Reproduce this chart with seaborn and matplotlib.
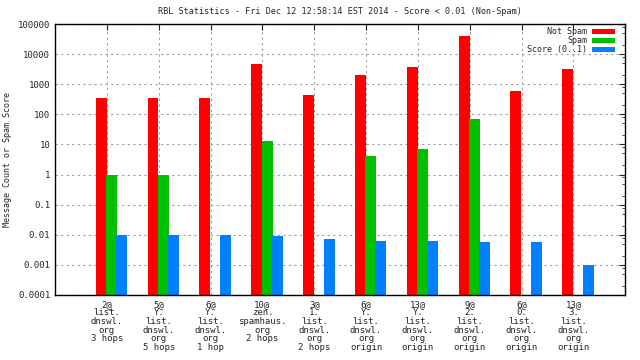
import matplotlib
matplotlib.use("Agg")
import matplotlib.pyplot as plt
import seaborn as sns
import numpy as np
import pandas as pd
from matplotlib.ticker import FixedLocator, FixedFormatter, LogLocator, NullFormatter

groups = ["2@\nlist.\ndnswl.\norg\n3 hops", "5@\nY.\nlist.\ndnswl.\norg\n5 hops",
          "6@\nY.\nlist.\ndnswl.\norg\n1 hop", "10@\nzen.\nspamhaus.\norg\n2 hops",
          "3@\n1.\nlist.\ndnswl.\norg\n2 hops", "6@\nY.\nlist.\ndnswl.\norg\norigin",
          "13@\nY.\nlist.\ndnswl.\norg\norigin", "9@\n2.\nlist.\ndnswl.\norg\norigin",
          "6@\n0.\nlist.\ndnswl.\norg\norigin", "13@\n3.\nlist.\ndnswl.\norg\norigin"]
not_spam = [350, 350, 350, 4800, 440, 2000, 3700, 41000, 590, 3200]
spam = [1, 1, None, 13, None, 4.1, 7, 69, None, None]
score = [0.0095, 0.0095, 0.0095, 0.0088, 0.0072, 0.0062, 0.006, 0.0055, 0.0055, 0.001]
series = ["Not Spam", "Spam", "Score (0..1)"]
colors = ["#ff0000", "#00c000", "#0080ff"]
ytick_vals = [0.0001, 0.001, 0.01, 0.1, 1, 10, 100, 1000, 10000, 100000]
ytick_labels = ["0.0001", "0.001", "0.01", "0.1", "1", "10", "100", "1000", "10000", "100000"]

offsets = [-0.11, 0.093, 0.286]  # gnuplot-style cluster placement
rows = []
for i in range(len(groups)):
    for s, vals, off in zip(series, [not_spam, spam, score], offsets):
        if vals[i] is not None:
            rows.append({"pos": round(i + 1 + off, 3), "value": vals[i], "series": s})
df = pd.DataFrame(rows)

sns.set_style("white")
plt.rcParams['font.family'] = ['DejaVu Sans Mono']
fig, ax = plt.subplots(figsize=(6.4, 3.6), dpi=100)
fig.subplots_adjust(left=0.086, right=0.977, top=0.933, bottom=0.181)

sns.barplot(data=df, x="pos", y="value", hue="series", hue_order=series, palette=colors,
            native_scale=True, dodge=False, width=1.09, saturation=1, ax=ax, linewidth=0)
ax.set_yscale("log")
ax.set_ylim(1e-4, 1e5)
ax.set_xlim(0, 11)

ax.yaxis.set_major_locator(FixedLocator(ytick_vals))
ax.yaxis.set_major_formatter(FixedFormatter(ytick_labels))
ax.yaxis.set_minor_locator(LogLocator(base=10, subs=[2, 5, 8]))
ax.yaxis.set_minor_formatter(NullFormatter())
ax.set_xticks(np.arange(1, len(groups) + 1))
ax.set_xticklabels(groups, fontsize=6.5, linespacing=0.95)
ax.tick_params(axis="y", labelsize=6.5)
ax.tick_params(which="both", direction="in", top=True, right=True, length=4)
ax.tick_params(which="minor", length=2)
ax.grid(True, which="major", color="#a0a0a0", linestyle=(0, (2, 3)), linewidth=0.8)
for sp in ax.spines.values():
    sp.set_color("black")
    sp.set_linewidth(1)

ax.set_xlabel("")
ax.set_ylabel("Message Count or Spam Score", fontsize=6)
ax.set_title("RBL Statistics - Fri Dec 12 12:58:14 EST 2014 - Score < 0.01 (Non-Spam)", fontsize=6.1, pad=7)

handles, labels = ax.get_legend_handles_labels()
ax.legend(handles, labels, loc="upper right", bbox_to_anchor=(0.987, 0.997), frameon=False,
          markerfirst=False, fontsize=6, handlelength=2.8, handleheight=0.6, labelspacing=0.0,
          handletextpad=0.6, borderaxespad=0, borderpad=0.3)

fig.savefig("out.png", dpi=100)
